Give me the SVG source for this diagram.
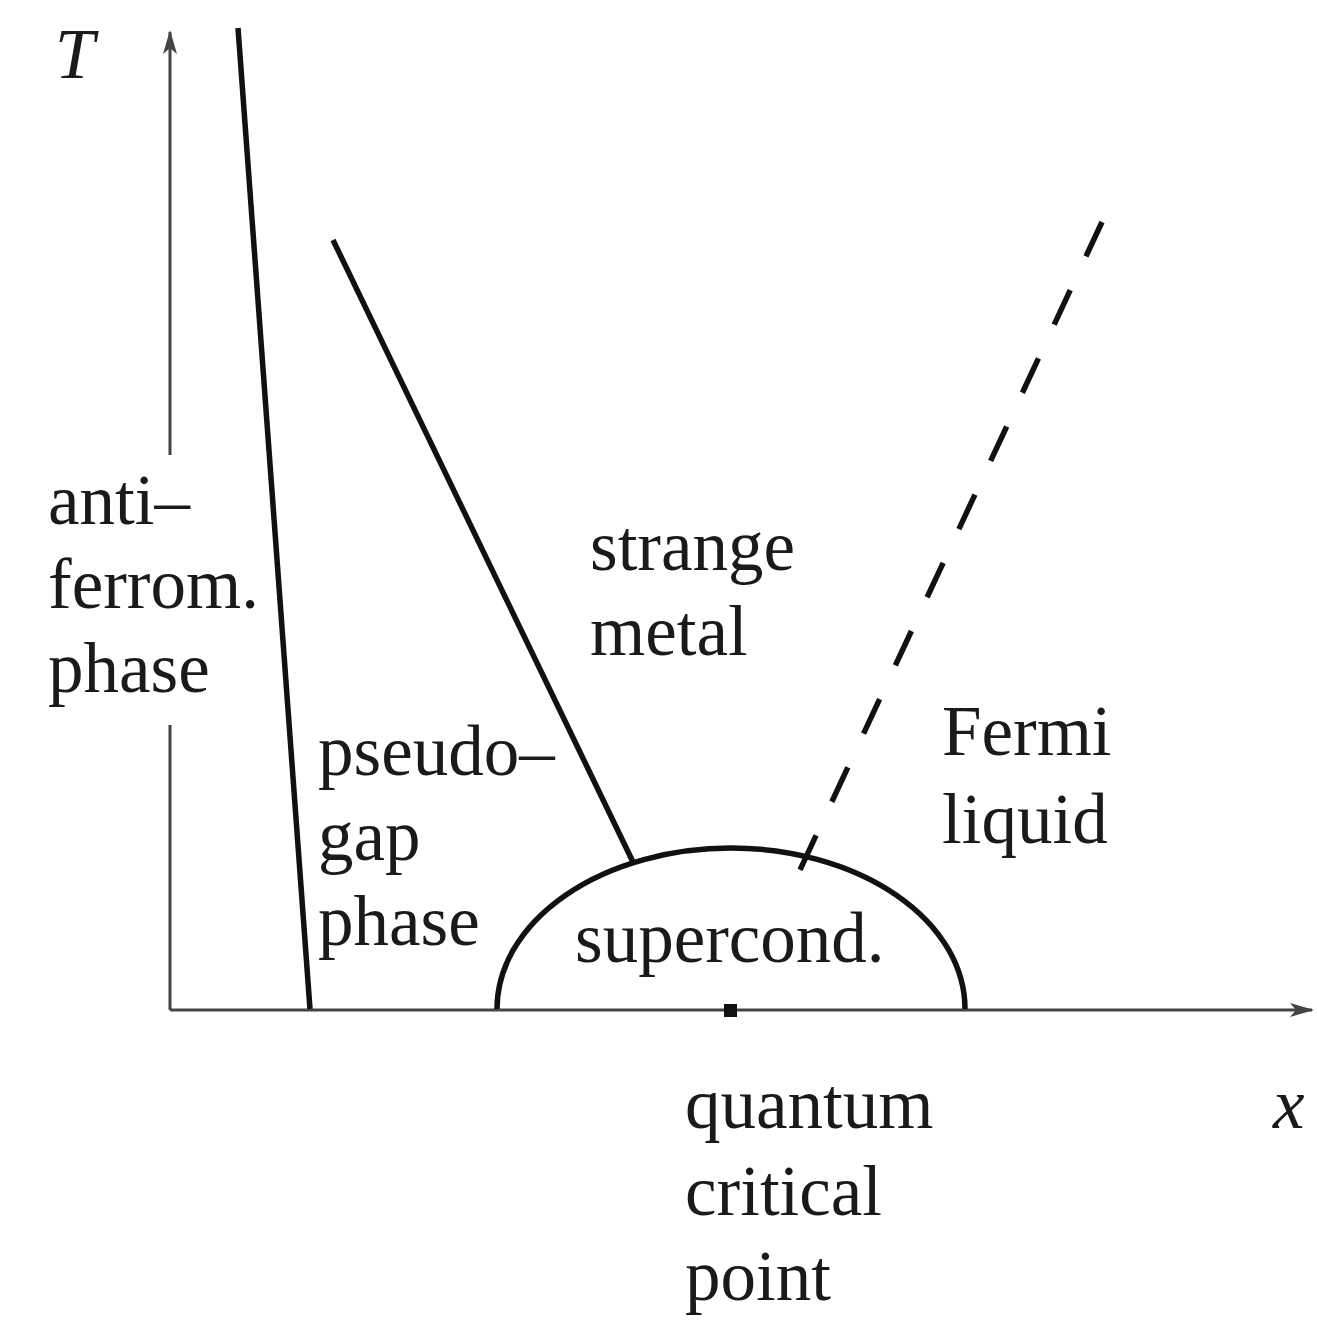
<svg xmlns="http://www.w3.org/2000/svg" width="1317" height="1324" viewBox="0 0 1317 1324">
<style>
text{font-family:"Liberation Serif","Times New Roman",serif;font-size:71px;fill:#1a1a1a}
.it{font-style:italic}
.axis{stroke:#444;stroke-width:3;fill:none}
.bd{stroke:#111;stroke-width:5.5;fill:none;stroke-linecap:butt}
</style>
<defs>
<marker id="ah" viewBox="0 0 24 14" refX="22" refY="7" markerWidth="24" markerHeight="14" markerUnits="userSpaceOnUse" orient="auto">
<path d="M0,0 L24,7 L0,14 L6,7 Z" fill="#444"/>
</marker>
</defs>
<rect width="1317" height="1324" fill="#fff"/>
<g id="connectors">
<line class="axis" x1="170" y1="455" x2="170" y2="32" marker-end="url(#ah)"/>
<line class="axis" x1="170" y1="725" x2="170" y2="1010"/>
<line class="axis" x1="170" y1="1010" x2="1312" y2="1010" marker-end="url(#ah)"/>
<line class="bd" x1="238" y1="28" x2="310" y2="1009"/>
<line class="bd" x1="333" y1="240" x2="633" y2="862"/>
<line class="bd" x1="1102" y1="222" x2="800" y2="870" stroke-dasharray="38,37.2"/>
<path class="bd" d="M497,1009 A234,161 0 0 1 965,1009"/>
</g>
<g id="qcp"><rect x="724" y="1004" width="13" height="13" fill="#111"/></g>
<g id="labels">
<text class="it" x="55" y="78">T</text>
<text class="it" x="1273" y="1128">x</text>
<text x="48" y="524">anti–</text>
<text x="48" y="608">ferrom.</text>
<text x="48" y="692">phase</text>
<text x="590" y="570">strange</text>
<text x="590" y="655">metal</text>
<text x="318" y="775">pseudo–</text>
<text x="318" y="860">gap</text>
<text x="318" y="945">phase</text>
<text x="942" y="755">Fermi</text>
<text x="942" y="843">liquid</text>
<text x="575" y="962">supercond.</text>
<text x="685" y="1128">quantum</text>
<text x="685" y="1215">critical</text>
<text x="685" y="1300">point</text>
</g>
</svg>
